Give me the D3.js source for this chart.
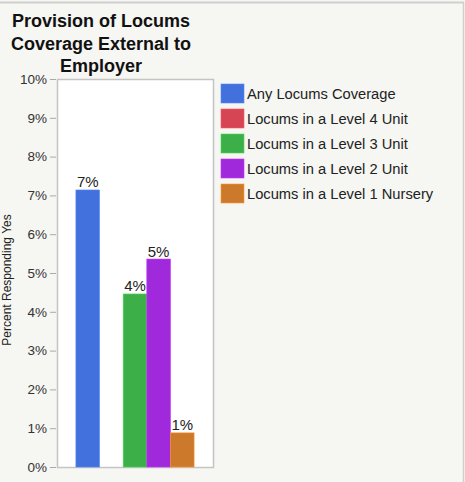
<!DOCTYPE html>
<html>
<head>
<meta charset="utf-8">
<script src="https://cdn.jsdelivr.net/npm/d3@7"></script>
<style>
  body { margin: 0; background: #f6f6f2; }
  svg { display: block; font-family: "Liberation Sans", Arial, Helvetica, sans-serif; }
</style>
</head>
<body>
<div id="chart"></div>
<script>
// data
const categories = ["Any Locums Coverage", "Locums in a Level 4 Unit", "Locums in a Level 3 Unit", "Locums in a Level 2 Unit", "Locums in a Level 1 Nursery"];
const values = [7.14, 0, 4.46, 5.36, 0.88];
const labels = ["7%", "", "4%", "5%", "1%"];
const colors = ["#4270dc", "#d64554", "#3daf48", "#a02adb", "#cd792b"];
const yTicks = [0, 1, 2, 3, 4, 5, 6, 7, 8, 9, 10];
const titleLines = ["Provision of Locums", "Coverage External to", "Employer"];

const width = 465, height = 482;
const plot = { left: 57, right: 213, top: 79, bottom: 467 };

const svg = d3.select("#chart").append("svg")
  .attr("width", width)
  .attr("height", height);

// outer frame lines
svg.append("line").attr("x1", 0).attr("x2", 464).attr("y1", 2.5).attr("y2", 2.5)
  .attr("stroke", "#cfcfcf").attr("stroke-width", 2);
svg.append("line").attr("x1", 463.5).attr("x2", 463.5).attr("y1", 2).attr("y2", height)
  .attr("stroke", "#cfcfcf").attr("stroke-width", 1.5);

const x = d3.scaleBand()
  .domain(categories)
  .range([plot.left, plot.right])
  .paddingInner(0)
  .paddingOuter(0.8);

const y = d3.scaleLinear()
  .domain([0, 10])
  .range([plot.bottom, plot.top]);

// plot area
svg.append("rect")
  .attr("x", plot.left + 0.5)
  .attr("y", plot.top + 0.5)
  .attr("width", plot.right - plot.left)
  .attr("height", plot.bottom - plot.top)
  .attr("fill", "#fff")
  .attr("stroke", "#c4c4c4")
  .attr("stroke-width", 1.5);

// y axis
const yAxis = svg.append("g")
  .attr("transform", "translate(" + (plot.left - 1) + ",0)")
  .call(d3.axisLeft(y).tickValues(yTicks).tickSize(6).tickPadding(3).tickFormat(d => d + "%"));
yAxis.select(".domain").remove();
yAxis.selectAll(".tick line").attr("stroke", "#aaa");
yAxis.selectAll(".tick text")
  .attr("fill", "#333")
  .style("font-size", "13.5px")
  .style("font-family", "'Liberation Sans', Arial, sans-serif");

svg.append("text")
  .attr("transform", "translate(11," + 280 + ") rotate(-90)")
  .attr("text-anchor", "middle")
  .attr("fill", "#222")
  .style("font-size", "12px")
  .text("Percent Responding Yes");

// bars
const bars = svg.append("g");
bars.selectAll("rect")
  .data(categories)
  .enter().append("rect")
  .attr("x", d => x(d))
  .attr("y", (d, i) => y(values[i]))
  .attr("width", x.bandwidth())
  .attr("height", (d, i) => y(0) - y(values[i]))
  .attr("fill", (d, i) => colors[i])
  .attr("stroke", (d, i) => d3.color(colors[i]).brighter(0.6))
  .attr("stroke-width", 0.6)
  .style("display", (d, i) => values[i] > 0 ? null : "none");

bars.selectAll("text")
  .data(categories)
  .enter().append("text")
  .attr("x", d => x(d) + x.bandwidth() / 2)
  .attr("y", (d, i) => y(values[i]) - 2.5)
  .attr("text-anchor", "middle")
  .attr("fill", "#222")
  .style("font-size", "15px")
  .text((d, i) => labels[i]);

// title
svg.append("text")
  .attr("text-anchor", "middle")
  .attr("fill", "#111")
  .style("font-size", "18px")
  .style("font-weight", "bold")
  .selectAll("tspan")
  .data(titleLines)
  .enter().append("tspan")
  .attr("x", 101)
  .attr("y", (d, i) => 27 + i * 22.5)
  .text(d => d);

// legend
const legend = svg.append("g")
  .attr("transform", "translate(221,84)");
const item = legend.selectAll("g")
  .data(categories)
  .enter().append("g")
  .attr("transform", (d, i) => "translate(0," + i * 25 + ")");
item.append("rect")
  .attr("width", 23)
  .attr("height", 19)
  .attr("fill", (d, i) => colors[i])
  .attr("stroke", (d, i) => d3.color(colors[i]).brighter(0.6))
  .attr("stroke-width", 0.6);
item.append("text")
  .attr("x", 26)
  .attr("y", 15)
  .attr("fill", "#222")
  .style("font-size", "14.7px")
  .text(d => d);
</script>
</body>
</html>
